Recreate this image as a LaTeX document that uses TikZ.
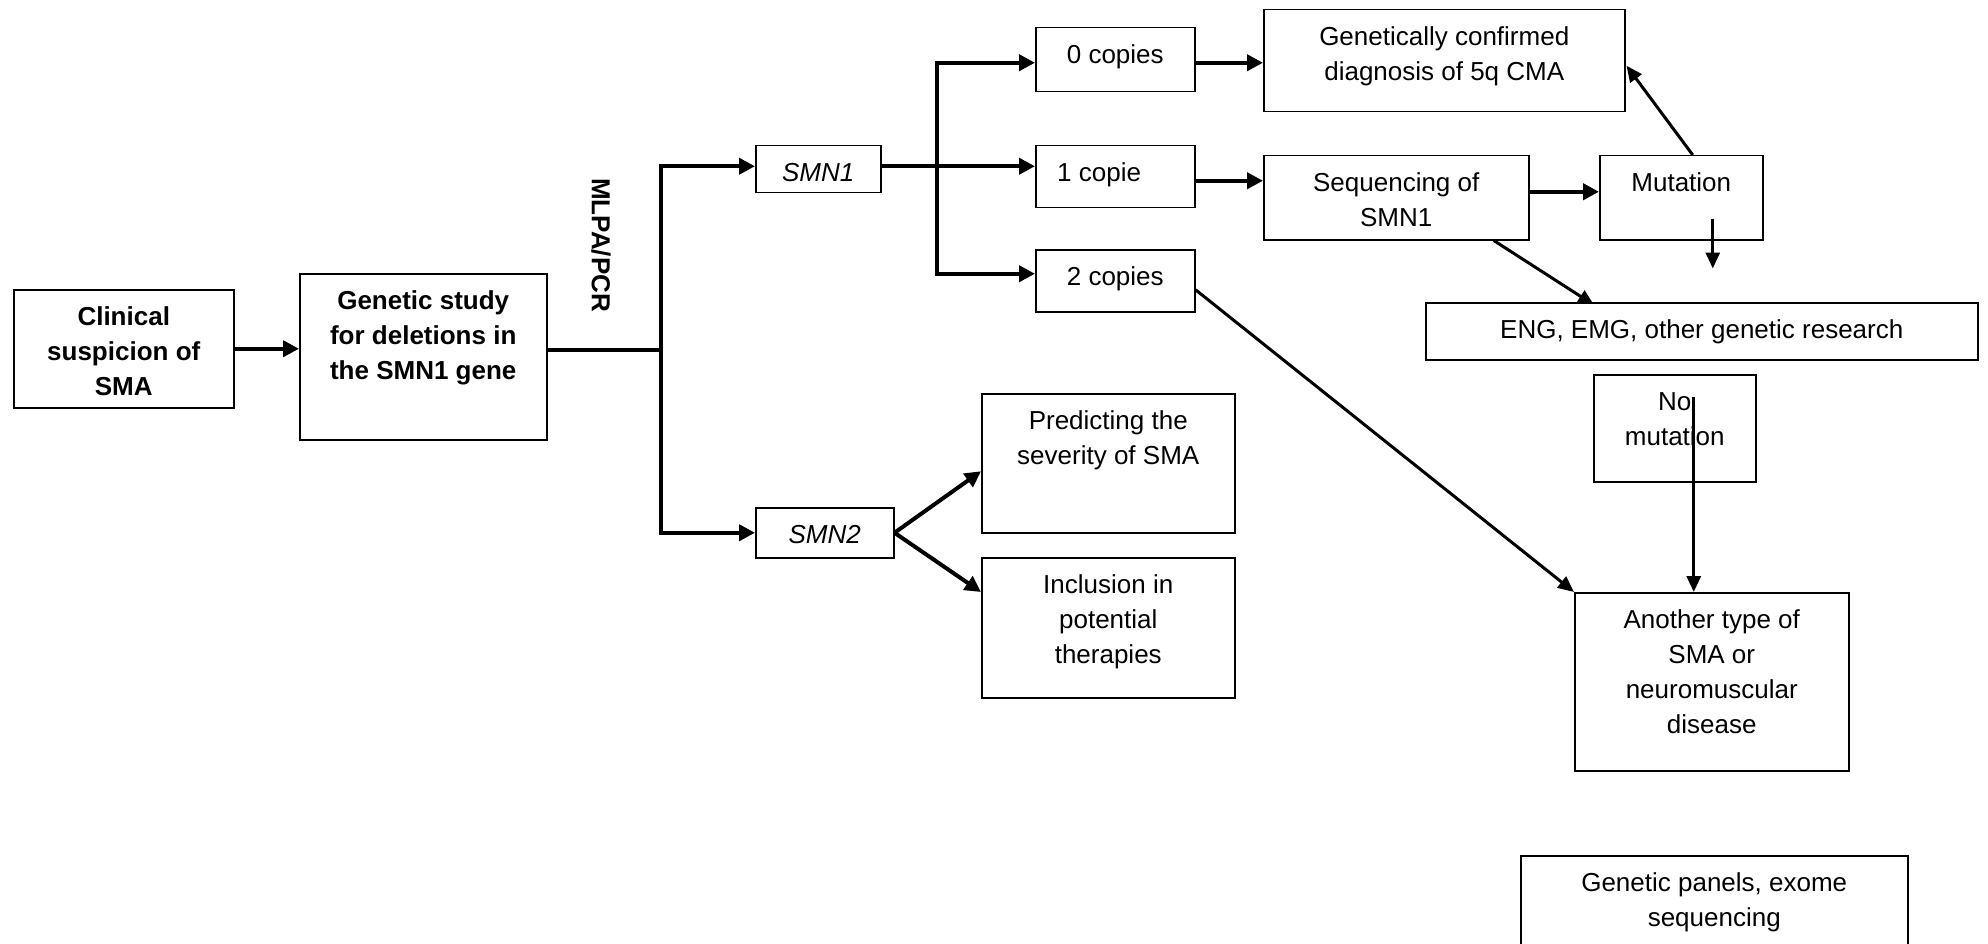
\documentclass[tikz,border=0pt]{standalone}
\usepackage{fontspec}
\setmainfont{Liberation Sans}
\usetikzlibrary{arrows.meta,calc}
\pgfdeclarelayer{bg}
\pgfsetlayers{bg,main}
\begin{document}
\begin{tikzpicture}[x=1pt,y=-1pt,
  box/.style={draw, line width=1.5pt, fill=white, inner sep=0pt, anchor=north west},
  txt/.style={inner sep=0pt, align=center, anchor=north, font=\fontsize{26}{35}\selectfont},
  txtb/.style={inner sep=0pt, align=center, anchor=north, font=\fontsize{26}{35}\selectfont\bfseries},
  arr/.style={line width=4pt, -{Triangle[length=16pt,width=16pt]}},
  arrt/.style={line width=3pt, -{Triangle[length=16pt,width=14pt]}},
  both/.style={line width=4pt, {Triangle[length=16pt,width=16pt]}-{Triangle[length=16pt,width=16pt]}},
  plain/.style={line width=4pt}]
\useasboundingbox (0,0) rectangle (1988,944);
\begin{pgfonlayer}{bg}
\fill[white] (0,0) rectangle (1988,944);
\end{pgfonlayer}
\clip (0,0) rectangle (1988,944);

% boxes
\node[box, minimum width=220pt, minimum height=118pt] (clinical) at (13,289) {};
\node[txtb] (clinical-t) at ([yshift=-11.5pt]clinical.north) {\strut Clinical\\suspicion of\\SMA};

\node[box, minimum width=247pt, minimum height=166pt] (genstudy) at (299,273) {};
\node[txtb] (genstudy-t) at ([yshift=-11.5pt]genstudy.north) {\strut Genetic study\\for deletions in\\the SMN1 gene};

\node[inner sep=0pt, rotate=-90, font=\fontsize{26}{35}\selectfont\bfseries] (mlpa) at (601,245) {MLPA/PCR};

\node[box, minimum width=125pt, minimum height=47pt] (smn1) at (755,145) {};
\node[txt] (smn1-t) at ([yshift=-11.5pt]smn1.north) {\strut\itshape SMN1};

\node[box, minimum width=138pt, minimum height=50pt] (smn2) at (755,507) {};
\node[txt] (smn2-t) at ([yshift=-11.5pt]smn2.north) {\strut\itshape SMN2};

\node[box, minimum width=159pt, minimum height=64pt] (c0) at (1035,27) {};
\node[txt] (c0-t) at ([yshift=-11.5pt]c0.north) {\strut 0 copies};

\node[box, minimum width=159pt, minimum height=62pt] (c1) at (1035,145) {};
\node[txt, anchor=north west] (c1-t) at ([xshift=22pt,yshift=-11.5pt]c1.north west) {\strut 1 copie};

\node[box, minimum width=159pt, minimum height=62pt] (c2) at (1035,249) {};
\node[txt] (c2-t) at ([yshift=-11.5pt]c2.north) {\strut 2 copies};

\node[box, minimum width=361pt, minimum height=102pt] (gcd) at (1263,9) {};
\node[txt] (gcd-t) at ([yshift=-11.5pt]gcd.north) {\strut Genetically confirmed\\diagnosis of 5q CMA};

\node[box, minimum width=265pt, minimum height=84pt] (seq) at (1263,155) {};
\node[txt] (seq-t) at ([yshift=-11.5pt]seq.north) {\strut Sequencing of\\SMN1};

\node[box, minimum width=163pt, minimum height=84pt] (mut) at (1599,155) {};
\node[txt] (mut-t) at ([yshift=-11.5pt]mut.north) {\strut Mutation};

\node[box, minimum width=552pt, minimum height=57pt] (eng) at (1425,302) {};
\node[txt] (eng-t) at ([yshift=-11.5pt]eng.north) {\strut ENG, EMG, other genetic research};

\node[box, minimum width=162pt, minimum height=107pt] (nomut) at (1593,374) {};
\node[txt] (nomut-t) at ([yshift=-12pt]nomut.north) {\strut No\\mutation};

\node[box, minimum width=274pt, minimum height=178pt] (another) at (1574,592) {};
\node[txt] (another-t) at ([yshift=-12pt]another.north) {\strut Another type of\\SMA or\\neuromuscular\\disease};

\node[box, minimum width=253pt, minimum height=139pt] (pred) at (981,393) {};
\node[txt] (pred-t) at ([yshift=-11.5pt]pred.north) {\strut Predicting the\\severity of SMA};

\node[box, minimum width=253pt, minimum height=140pt] (incl) at (981,557) {};
\node[txt] (incl-t) at ([yshift=-11.5pt]incl.north) {\strut Inclusion in\\potential\\therapies};

\node[box, minimum width=387pt, minimum height=95pt] (panels) at (1520,855) {};
\node[txt] (panels-t) at ([yshift=-12pt]panels.north) {\strut Genetic panels, exome\\sequencing};

% connectors
\draw[arr] (clinical.east) -- (clinical.east -| genstudy.west);

\coordinate (j1) at ($(genstudy.east)+(113,-7)$);
\draw[plain] (genstudy.east |- j1) -- (j1);
\draw[both] ($(smn1.west)+(0,-3)$) -| (j1) |- (smn2.west);

\coordinate (j2) at ($(smn1.east)+(55,-3)$);
\draw[arr] (smn1.east |- j2) -- (j2 -| c1.west);
\draw[both] ($(c0.west)+(0,3)$) -| (j2) |- ($(c2.west)+(0,-7)$);

\draw[arr] ($(c0.east)+(0,3)$) -- ($(c0.east -| gcd.west)+(0,3)$);
\draw[arr] ($(c1.east)+(0,4)$) -- ($(c1.east -| seq.west)+(0,4)$);
\draw[arr] ($(seq.east)+(0,-6)$) -- ($(seq.east -| mut.west)+(0,-6)$);

\draw[arrt] ($(mut.north)+(11.5,0)$) -- ($(gcd.east)+(1,5)$);

\coordinate (m1) at ($(mut.south)+(31.5,-22)$);
\coordinate (m2) at ($(mut.south)+(31.5,28)$);
\draw[arrt] (m1) -- (m2);

\begin{pgfonlayer}{bg}
\draw[arrt] ($(seq.south)+(97.5,0)$) -- ($(eng.north west)+(169,3)$);
\end{pgfonlayer}

\draw[arrt] ($(c2.east)+(0,9)$) -- (another.north west);

\coordinate (n1) at ($(nomut.north)+(19,23)$);
\draw[arrt] (n1) -- (n1 |- another.north);

\draw[arr] (smn2.east) -- ($(pred.west)+(0,8)$);
\draw[arr] (smn2.east) -- ($(incl.north west)+(0,35)$);
\end{tikzpicture}
\end{document}
